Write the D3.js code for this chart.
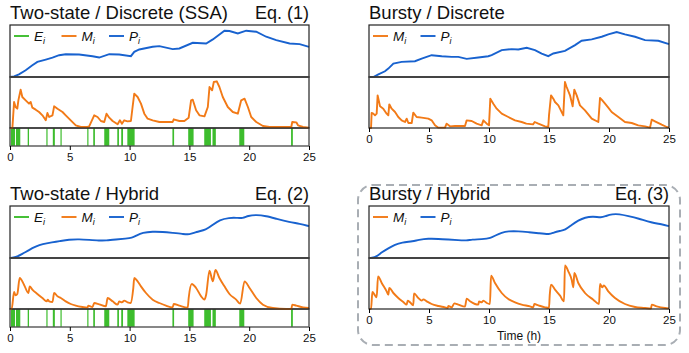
<!DOCTYPE html>
<html>
<head>
<meta charset="UTF-8">
<title>Two-state / Bursty trajectories</title>
<script src="https://d3js.org/d3.v7.min.js"></script>
<style>
body { margin: 0; background: #fff; }
text { font-family: "Liberation Sans", Arial, sans-serif; }
</style>
</head>
<body>
<script>
// time ticks
var timeTicks = [0, 5, 10, 15, 20, 25];

// E_i "on" intervals (same gene trajectory in both two-state panels)
var eOn = [[0.08,0.42],[0.5,0.86],[1.48,1.59],[3.04,3.13],[3.58,3.75],[4.22,4.3],
  [6.46,6.54],[6.96,7.1],[7.88,8.3],[8.97,9.11],[9.3,9.45],[9.81,10.42],
  [13.58,13.72],[14.9,15.35],[16.24,16.8],[16.93,17.21],[19.17,19.59],[23.5,23.65]];

// protein, two-state discrete (SSA)
var pTwoSSA = [[0,0],[0.34,2],[0.75,8],[1.31,20],[1.87,35],[2.29,45],[2.99,52],[3.55,58],
  [4.11,65],[4.66,68],[5.78,67],[6.9,62],[7.46,58],[8.3,68],[9.13,67],[10.11,62],[10.39,75],
  [10.81,82],[11.93,90],[12.49,92],[13.6,83],[14.16,85],[15.28,102],[16.4,100],[16.96,112],
  [17.93,138],[18.35,137],[19.05,130],[19.75,138],[20.59,135],[21.42,120],[22.26,110],
  [23.38,100],[24.22,98],[25,90]];

// mRNA, two-state discrete (SSA)
var mTwoSSA = [[0,0],[0.2,0],[0.34,78],[0.47,63],[0.61,58],[0.7,83],[0.89,115],[1.03,93],
  [1.31,83],[1.59,73],[1.73,78],[1.87,61],[2.15,55],[2.43,48],[2.71,38],[2.99,23],[3.13,45],
  [3.27,33],[3.55,38],[3.69,65],[3.97,58],[4.39,48],[4.66,38],[5.08,23],[5.5,8],[5.92,3],
  [6.48,3],[6.62,5],[7.04,38],[7.32,33],[7.6,21],[7.88,18],[8.07,43],[8.3,31],[8.58,21],
  [9.0,11],[9.19,23],[9.36,13],[9.55,23],[9.83,20],[10.11,21],[10.25,63],[10.39,103],
  [10.67,93],[10.95,73],[11.23,43],[11.51,28],[11.93,23],[12.49,18],[13.04,18],[13.6,18],
  [13.69,26],[14.16,21],[14.58,21],[14.94,31],[15.14,83],[15.28,85],[15.56,53],[15.84,38],
  [16.26,35],[16.54,63],[16.68,123],[16.9,113],[17.04,138],[17.29,140],[17.51,123],
  [17.79,93],[18.21,63],[18.63,48],[19.05,43],[19.33,83],[19.61,88],[19.89,63],[20.17,33],
  [20.59,18],[21.15,6],[21.7,3],[22.54,3],[23.52,3],[23.6,18],[23.94,17],[24.08,8],
  [24.5,3],[25,1]];

// protein, bursty discrete
var pBurstSSA = [[0,0],[0.36,0],[0.78,8],[1.33,17],[1.61,25],[2.03,40],[2.72,45],[3.83,47],
  [4.39,55],[5.22,65],[6.06,62],[6.89,60],[7.44,60],[8.14,54],[9.11,58],[9.94,62],[10.22,65],
  [11.06,80],[11.89,83],[12.44,82],[13.14,87],[13.83,80],[14.39,70],[14.94,62],[15.36,70],
  [16.33,78],[17.17,95],[17.72,108],[18.56,112],[19.39,120],[19.94,127],[20.64,134],
  [21.33,127],[22.17,120],[23.0,110],[24.11,108],[25,98]];

// mRNA, bursty discrete
var mBurstSSA = [[0,0],[0.17,0],[0.22,45],[0.36,43],[0.5,38],[0.64,43],[0.72,98],[0.78,88],
  [0.92,65],[1.19,58],[1.47,43],[1.61,38],[1.69,71],[1.89,58],[2.17,48],[2.44,33],[2.72,23],
  [3.0,18],[3.14,28],[3.28,15],[3.56,15],[3.69,46],[3.97,33],[4.39,31],[4.94,28],[5.22,23],
  [5.5,8],[5.78,1],[6.33,1],[6.47,13],[6.75,5],[7.17,6],[8.0,6],[8.14,23],[8.56,21],
  [8.97,13],[9.39,8],[9.53,23],[9.81,13],[10.0,8],[10.11,88],[10.36,73],[10.64,58],
  [11.06,43],[11.61,33],[12.17,23],[12.72,18],[13.11,13],[13.67,11],[13.81,18],[14.11,13],
  [14.67,5],[14.94,3],[15.0,38],[15.17,98],[15.36,88],[15.5,78],[15.78,68],[16.19,38],
  [16.33,138],[16.47,123],[16.75,98],[16.97,65],[17.11,115],[17.31,98],[17.58,68],
  [18.0,53],[18.56,28],[19.11,18],[19.25,90],[19.39,85],[19.67,73],[19.94,61],[20.22,48],
  [20.78,33],[21.33,18],[21.89,15],[22.44,8],[23.0,5],[23.42,1],[23.56,25],[23.83,20],
  [24.39,10],[24.81,3],[25,1]];

// protein, two-state hybrid
var pTwoHyb = [[0,0],[0.47,2],[1.03,12],[1.59,24],[2.15,34],[2.7,42],[3.55,47],[4.11,50],
  [4.94,55],[5.78,56],[6.62,54],[7.46,52],[8.02,52],[8.86,55],[9.69,58],[10.2,60],[10.53,66],
  [11.09,76],[11.93,79],[12.77,78],[13.6,75],[14.44,72],[15.0,69],[15.56,78],[16.4,84],
  [16.96,99],[17.51,114],[18.35,120],[18.91,120],[19.47,118],[19.89,126],[20.59,129],
  [21.42,125],[22.26,117],[23.38,107],[24.22,102],[25,95]];

// mRNA, two-state hybrid
var mTwoHyb = [[0,0],[0.14,0],[0.34,51],[0.47,41],[0.61,45],[0.81,93],[1.17,73],[1.54,48],
  [1.65,68],[1.87,58],[2.29,45],[2.71,33],[3.07,23],[3.16,28],[3.27,23],[3.55,21],[3.69,48],
  [3.97,38],[4.25,33],[4.66,23],[5.08,15],[5.5,10],[6.06,6],[6.48,4],[6.54,10],[6.9,6],
  [7.04,18],[7.46,14],[8.02,8],[8.16,33],[8.58,23],[9.0,13],[9.13,23],[9.36,20],[9.55,25],
  [9.83,20],[10.11,18],[10.31,63],[10.39,93],[10.67,83],[10.95,68],[11.37,48],[11.93,28],
  [12.49,18],[13.04,10],[13.6,5],[13.69,15],[14.16,10],[14.86,4],[14.94,33],[15.2,75],
  [15.56,63],[15.98,38],[16.26,28],[16.4,43],[16.68,115],[16.96,83],[17.18,117],[17.51,93],
  [17.93,68],[18.35,45],[18.91,28],[19.25,16],[19.61,83],[20.03,63],[20.59,33],[21.15,13],
  [21.98,3],[23.1,0],[23.52,0],[23.6,13],[23.94,10],[24.5,5],[25,3]];

// protein, bursty hybrid
var pBurstHyb = [[0,0],[0.22,0],[0.64,4],[1.06,17],[1.61,29],[2.17,40],[2.72,46],[3.69,50],
  [4.11,54],[4.94,58],[5.78,57],[6.61,55],[7.44,53],[8.14,52],[8.56,55],[9.39,56],[10.17,59],
  [10.5,67],[11.06,76],[11.61,80],[12.44,80],[13.28,77],[14.11,74],[15.08,70],[15.36,76],
  [15.92,81],[16.33,83],[16.89,99],[17.44,112],[18.0,121],[18.69,124],[19.36,120],
  [19.72,125],[20.28,131],[20.83,131],[21.61,125],[22.44,118],[23.56,105],[24.39,101],[25,95]];

// mRNA, bursty hybrid
var mBurstHyb = [[0,0],[0.17,0],[0.28,51],[0.5,41],[0.64,35],[0.75,98],[1.06,78],[1.47,53],
  [1.61,43],[1.69,63],[2.03,48],[2.44,33],[2.86,21],[3.14,13],[3.22,25],[3.42,20],[3.69,11],
  [3.75,47],[4.11,33],[4.39,25],[4.53,29],[4.81,23],[5.22,15],[5.78,9],[6.33,5],[6.56,3],
  [6.61,9],[6.89,5],[7.11,17],[7.44,13],[8.0,7],[8.14,31],[8.42,23],[8.83,15],[9.11,13],
  [9.17,23],[9.39,20],[9.53,25],[9.81,18],[10.08,15],[10.17,100],[10.5,78],[11.06,48],
  [11.61,30],[12.17,20],[12.72,13],[13.42,8],[13.69,5],[13.78,15],[14.11,11],[14.67,5],
  [15.0,3],[15.06,41],[15.17,73],[15.5,58],[15.92,40],[16.25,23],[16.33,131],[16.61,113],
  [16.89,88],[17.03,65],[17.11,108],[17.44,78],[18.0,48],[18.69,28],[19.17,15],[19.25,75],
  [19.44,65],[19.56,71],[19.94,53],[20.5,33],[21.33,15],[22.17,6],[23.0,3],[23.5,1],
  [23.56,13],[23.97,8],[24.67,3],[25,2]];

var green = "#3dbd2d", orange = "#f27a17", blue = "#1862cf";

var svg = d3.select("body").append("svg")
  .attr("width", 689).attr("height", 353);

// dashed highlight box behind bottom-right panel
svg.append("rect")
  .attr("x", 358).attr("y", 185).attr("width", 322).attr("height", 160)
  .attr("rx", 15).attr("ry", 15)
  .attr("fill", "none").attr("stroke", "#a9aeb4")
  .attr("stroke-width", 2).attr("stroke-dasharray", "8,5");

function legendLabel(g, x, y, letter) {
  var t = g.append("text").attr("x", x).attr("y", y + 4.5)
    .style("font-size", "13.5px").style("font-style", "italic").attr("fill", "#111");
  t.append("tspan").text(letter);
  t.append("tspan").attr("dy", 3).style("font-size", "9px").text("i");
}

function drawPanel(cfg) {
  var x = d3.scaleLinear().domain([0, 25]).range([cfg.x0, cfg.x1]);
  var yP = d3.scaleLinear().domain([0, 155]).range([cfg.top + 52, cfg.top]);
  var mTop = cfg.top + 52, mBot = cfg.top + 103;
  var yM = d3.scaleLinear().domain([0, 153]).range([mBot, mTop]);
  var w = cfg.x1 - cfg.x0;
  var axisY = mBot;

  var g = svg.append("g");

  var curve = cfg.hybrid ? d3.curveMonotoneX : d3.curveLinear;
  var lineP = d3.line().curve(cfg.hybrid ? d3.curveBasis : d3.curveLinear)
    .x(function(d) { return x(d[0]); }).y(function(d) { return yP(d[1]); });
  var lineM = d3.line().curve(curve)
    .x(function(d) { return x(d[0]); }).y(function(d) { return yM(d[1]); });

  if (cfg.e) {
    var eBot = mBot + 18;
    axisY = eBot;
    g.selectAll("rect.e").data(cfg.e).enter().append("rect")
      .attr("class", "e")
      .attr("x", function(d) { return x(d[0]); })
      .attr("width", function(d) { return Math.max(1.2, x(d[1]) - x(d[0])); })
      .attr("y", mBot).attr("height", 18)
      .attr("fill", green);
    g.append("rect").attr("x", cfg.x0).attr("y", mBot).attr("width", w).attr("height", 18)
      .attr("fill", "none").attr("stroke", "#555").attr("stroke-width", 1.4);
  }

  g.append("path").attr("d", lineP(cfg.p))
    .attr("fill", "none").attr("stroke", blue).attr("stroke-width", 1.9);
  g.append("path").attr("d", lineM(cfg.m))
    .attr("fill", "none").attr("stroke", orange).attr("stroke-width", 1.9)
    .attr("stroke-linejoin", "round");

  g.append("rect").attr("x", cfg.x0).attr("y", cfg.top).attr("width", w).attr("height", 52)
    .attr("fill", "none").attr("stroke", "#222").attr("stroke-width", 1.2);
  g.append("rect").attr("x", cfg.x0).attr("y", mTop).attr("width", w).attr("height", 51)
    .attr("fill", "none").attr("stroke", "#222").attr("stroke-width", 1.2);
  g.append("line").attr("x1", cfg.x0).attr("x2", cfg.x1).attr("y1", mTop).attr("y2", mTop)
    .attr("stroke", "#444").attr("stroke-width", 1.6);

  var ax = g.append("g").attr("transform", "translate(0," + axisY + ")")
    .call(d3.axisBottom(x).tickValues(timeTicks).tickSize(4).tickPadding(3)
      .tickFormat(d3.format("d")));
  ax.select(".domain").remove();
  ax.selectAll("text").style("font-size", "11.5px")
    .style("font-family", "'Liberation Sans', Arial, sans-serif").attr("fill", "#111");

  // titles
  g.append("text").attr("x", cfg.x0).attr("y", cfg.top - 6)
    .style("font-size", "18.5px").attr("fill", "#111").text(cfg.title);
  if (cfg.eq) {
    g.append("text").attr("x", cfg.x1).attr("y", cfg.top - 6)
      .attr("text-anchor", "end").style("font-size", "18px").attr("fill", "#111").text(cfg.eq);
  }

  // legend
  var ly = cfg.top + 11, lx = cfg.x0 + 4;
  var items = cfg.e ? [["E", green], ["M", orange], ["P", blue]] : [["M", orange], ["P", blue]];
  items.forEach(function(it, i) {
    var ox = lx + i * 47.5;
    g.append("line").attr("x1", ox).attr("x2", ox + 15).attr("y1", ly).attr("y2", ly)
      .attr("stroke", it[1]).attr("stroke-width", 1.9);
    legendLabel(g, ox + 20, ly, it[0]);
  });

  if (cfg.xlabel) {
    g.append("text").attr("x", (cfg.x0 + cfg.x1) / 2).attr("y", axisY + 31)
      .attr("text-anchor", "middle").style("font-size", "12px").attr("fill", "#111")
      .text(cfg.xlabel);
  }
}

drawPanel({ x0: 10, x1: 309, top: 25, title: "Two-state / Discrete (SSA)", eq: "Eq. (1)",
  p: pTwoSSA, m: mTwoSSA, e: eOn });
drawPanel({ x0: 369, x1: 669, top: 25, title: "Bursty / Discrete",
  p: pBurstSSA, m: mBurstSSA });
drawPanel({ x0: 10, x1: 309, top: 206, title: "Two-state / Hybrid", eq: "Eq. (2)",
  p: pTwoHyb, m: mTwoHyb, e: eOn, hybrid: true });
drawPanel({ x0: 369, x1: 669, top: 206, title: "Bursty / Hybrid", eq: "Eq. (3)",
  p: pBurstHyb, m: mBurstHyb, hybrid: true, xlabel: "Time (h)" });
</script>
</body>
</html>
